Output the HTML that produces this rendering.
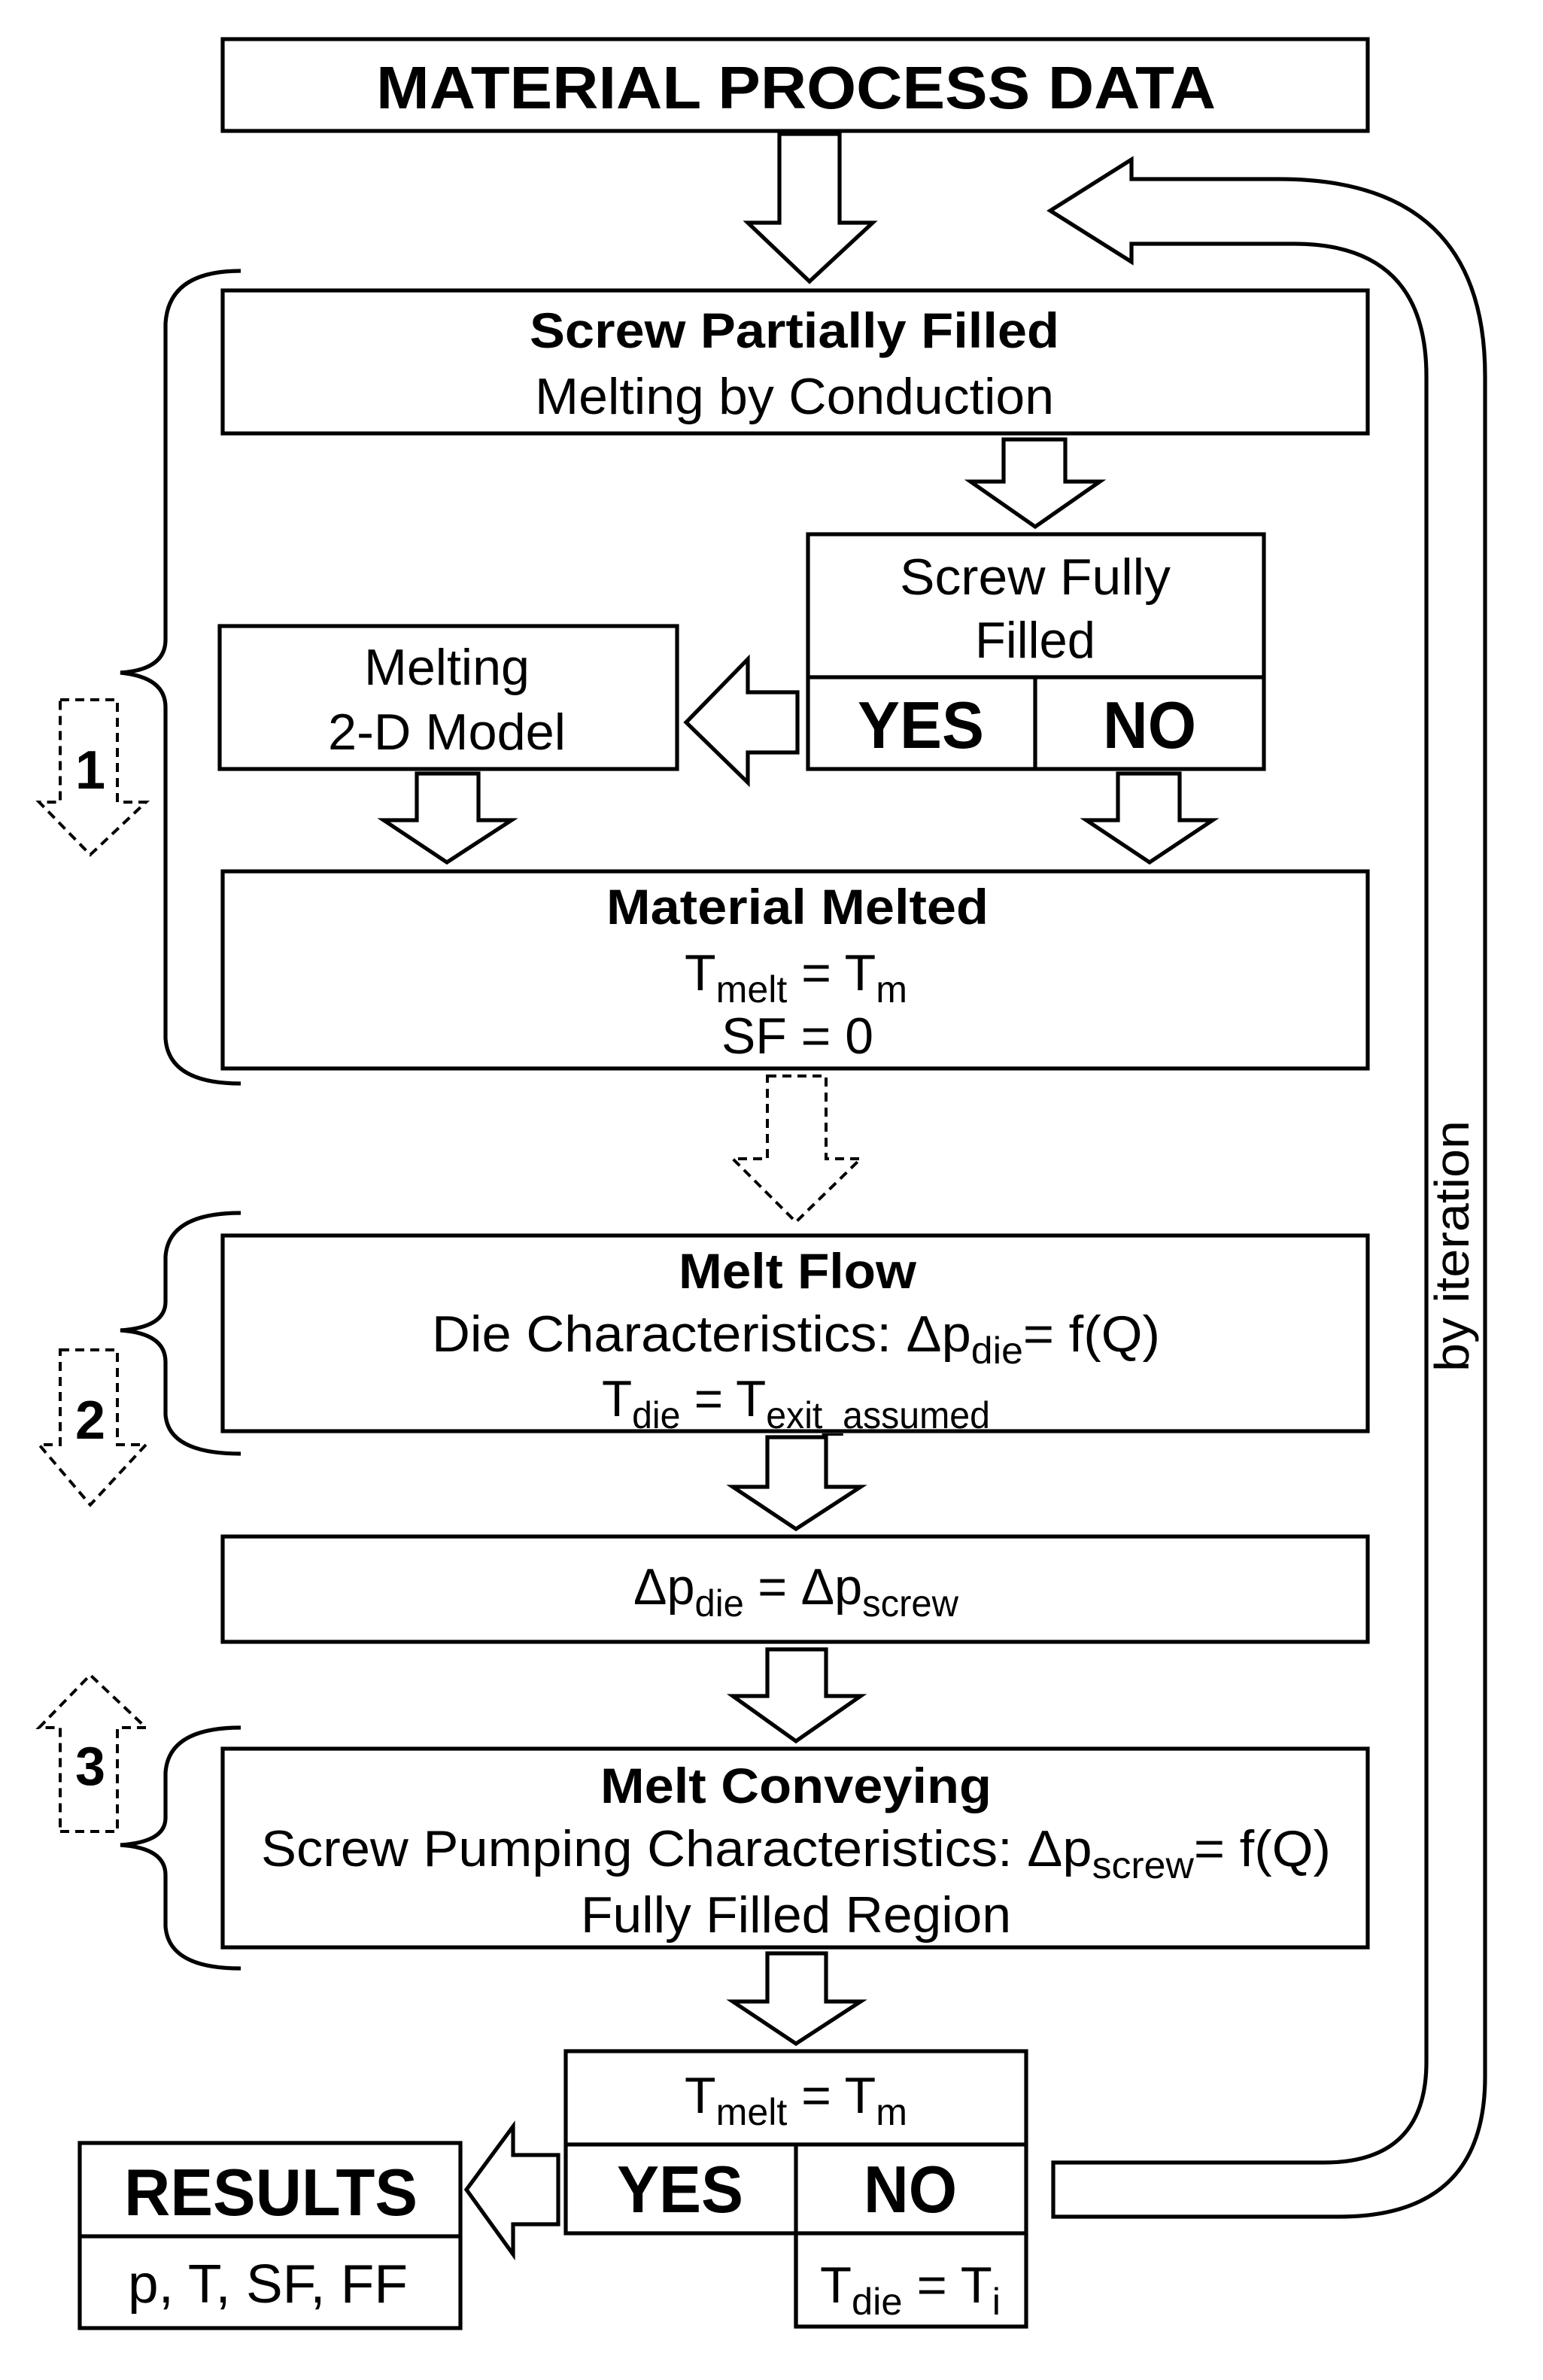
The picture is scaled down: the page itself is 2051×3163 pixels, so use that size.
<!DOCTYPE html>
<html><head><meta charset="utf-8"><style>
html,body{margin:0;padding:0;background:#fff}
svg{display:block}
text{font-family:"Liberation Sans",Arial,sans-serif;fill:#000;text-anchor:middle}
.b{font-weight:bold}
</style></head><body>
<svg width="2051" height="3163" viewBox="0 0 1025.5 1581.5" xmlns="http://www.w3.org/2000/svg">
<g fill="#fff" stroke="#000" stroke-width="2.6" stroke-linejoin="miter">
<rect x="148" y="26" width="761" height="61"/>
<rect x="148" y="193" width="761" height="95"/>
<rect x="537" y="355" width="303" height="156"/>
<line x1="537" y1="450" x2="840" y2="450"/>
<line x1="688" y1="450" x2="688" y2="511"/>
<rect x="146" y="416" width="304" height="95"/>
<rect x="148" y="579" width="761" height="131"/>
<rect x="148" y="821" width="761" height="130"/>
<rect x="148" y="1021" width="761" height="70"/>
<rect x="148" y="1162" width="761" height="132"/>
<rect x="376" y="1363" width="306" height="121"/>
<line x1="376" y1="1425" x2="682" y2="1425"/>
<line x1="529" y1="1425" x2="529" y2="1546"/>
<polyline points="529,1484 529,1546 682,1546 682,1484" fill="none"/>
<rect x="53" y="1424" width="253" height="123"/>
<line x1="53" y1="1486" x2="306" y2="1486"/>
<polygon points="518,89 558,89 558,148 580,148 538,187 497,148 518,148"/>
<polygon points="667,292 708,292 708,320 731,320 688,350 645,320 667,320"/>
<polygon points="530,460 530,500 497,500 497,520 456,480 497,438 497,460"/>
<polygon points="277,514 318,514 318,545 340,545 297,573 255,545 277,545"/>
<polygon points="743,514 784,514 784,545 806,545 764,573 722,545 743,545"/>
<polygon points="510,955 549,955 549,988 572,988 529,1016 487,988 510,988"/>
<polygon points="510,1096 549,1096 549,1127 572,1127 529,1157 487,1127 510,1127"/>
<polygon points="510,1298 549,1298 549,1330 572,1330 529,1358 487,1330 510,1330"/>
<polygon points="371,1432 371,1478 341,1478 341,1498 310,1455 341,1413 341,1432"/>
<path d="M700,1437 L880,1437 Q948,1437 948,1370 L948,250 Q948,162 860,162 L752,162 L752,174 L698,140 L752,106 L752,119 L850,119 Q987,119 987,250 L987,1380 Q987,1473 890,1473 L700,1473 Z"/>
</g>
<g fill="none" stroke="#000" stroke-width="2" stroke-dasharray="6,4">
<polygon points="510,715 549,715 549,770 572,770 529,812 487,770 510,770"/>
<polygon points="40,465 78,465 78,533 97,533 60,568 26,533 40,533"/>
<polygon points="40,897 78,897 78,960 97,960 60,1000 26,960 40,960"/>
<polygon points="40,1217 78,1217 78,1148 97,1148 60,1113 26,1148 40,1148"/>
</g>
<g fill="none" stroke="#000" stroke-width="2.6">
<path d="M160,180 Q112,180 110,215 L110,425 Q110,445 80,447 Q110,450 110,470 L110,690 Q112,720 160,720"/>
<path d="M160,806 Q112,806 110,835 L110,865 Q110,882 80,884 Q110,886 110,905 L110,940 Q112,966 160,966"/>
<path d="M160,1148 Q112,1148 110,1178 L110,1208 Q110,1224 80,1226 Q110,1228 110,1246 L110,1280 Q112,1308 160,1308"/>
</g>
<text x="529" y="72" class="b" font-size="40" textLength="558" lengthAdjust="spacingAndGlyphs">MATERIAL PROCESS DATA</text>
<text x="528" y="231" class="b" font-size="33" textLength="352" lengthAdjust="spacingAndGlyphs">Screw Partially Filled</text>
<text x="528" y="275" font-size="34" textLength="345" lengthAdjust="spacingAndGlyphs">Melting by Conduction</text>
<text x="688" y="395" font-size="34" textLength="180" lengthAdjust="spacingAndGlyphs">Screw Fully</text>
<text x="688" y="437" font-size="34" textLength="80" lengthAdjust="spacingAndGlyphs">Filled</text>
<text x="612" y="497" class="b" font-size="44" textLength="84" lengthAdjust="spacingAndGlyphs">YES</text>
<text x="764" y="497" class="b" font-size="44" textLength="62" lengthAdjust="spacingAndGlyphs">NO</text>
<text x="297" y="455" font-size="34" textLength="110" lengthAdjust="spacingAndGlyphs">Melting</text>
<text x="297" y="498" font-size="34" textLength="158" lengthAdjust="spacingAndGlyphs">2-D Model</text>
<text x="530" y="614" class="b" font-size="33" textLength="254" lengthAdjust="spacingAndGlyphs">Material Melted</text>
<text x="529" y="658" font-size="34" textLength="148" lengthAdjust="spacingAndGlyphs">T<tspan font-size="25" dy="8">melt</tspan><tspan dy="-8"> = T</tspan><tspan font-size="25" dy="8">m</tspan></text>
<text x="530" y="700" font-size="34" textLength="101" lengthAdjust="spacingAndGlyphs">SF = 0</text>
<text x="530" y="856" class="b" font-size="33" textLength="158" lengthAdjust="spacingAndGlyphs">Melt Flow</text>
<text x="529" y="898" font-size="34" textLength="484" lengthAdjust="spacingAndGlyphs">Die Characteristics: Δp<tspan font-size="25" dy="8">die</tspan><tspan dy="-8">= f(Q)</tspan></text>
<text x="529" y="941" font-size="34" textLength="258" lengthAdjust="spacingAndGlyphs">T<tspan font-size="25" dy="8">die</tspan><tspan dy="-8"> = T</tspan><tspan font-size="25" dy="8">exit_assumed</tspan></text>
<text x="529" y="1066" font-size="34" textLength="216" lengthAdjust="spacingAndGlyphs">Δp<tspan font-size="25" dy="8">die</tspan><tspan dy="-8"> = Δp</tspan><tspan font-size="25" dy="8">screw</tspan></text>
<text x="529" y="1198" class="b" font-size="33" textLength="260" lengthAdjust="spacingAndGlyphs">Melt Conveying</text>
<text x="529" y="1240" font-size="34" textLength="711" lengthAdjust="spacingAndGlyphs">Screw Pumping Characteristics: Δp<tspan font-size="25" dy="8">screw</tspan><tspan dy="-8">= f(Q)</tspan></text>
<text x="529" y="1284" font-size="34" textLength="286" lengthAdjust="spacingAndGlyphs">Fully Filled Region</text>
<text x="529" y="1404" font-size="34" textLength="148" lengthAdjust="spacingAndGlyphs">T<tspan font-size="25" dy="8">melt</tspan><tspan dy="-8"> = T</tspan><tspan font-size="25" dy="8">m</tspan></text>
<text x="452" y="1470" class="b" font-size="44" textLength="84" lengthAdjust="spacingAndGlyphs">YES</text>
<text x="605" y="1470" class="b" font-size="44" textLength="62" lengthAdjust="spacingAndGlyphs">NO</text>
<text x="180" y="1472" class="b" font-size="44" textLength="195" lengthAdjust="spacingAndGlyphs">RESULTS</text>
<text x="178" y="1530" font-size="36" textLength="186" lengthAdjust="spacingAndGlyphs">p, T, SF, FF</text>
<text x="605" y="1530" font-size="34" textLength="120" lengthAdjust="spacingAndGlyphs">T<tspan font-size="25" dy="8">die</tspan><tspan dy="-8"> = T</tspan><tspan font-size="25" dy="8">i</tspan></text>
<text x="60" y="524" class="b" font-size="36">1</text>
<text x="60" y="956" class="b" font-size="36">2</text>
<text x="60" y="1186" class="b" font-size="36">3</text>
<text transform="translate(976,828) rotate(-90)" font-size="32" textLength="167" lengthAdjust="spacingAndGlyphs">by iteration</text>
</svg>
</body></html>
